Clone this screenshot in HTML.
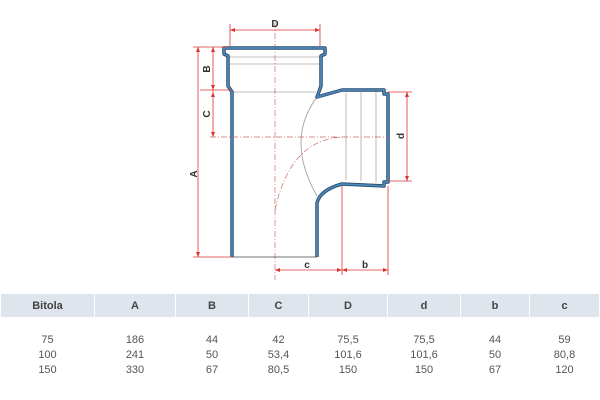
<!DOCTYPE html>
<html><head><style>
body{margin:0;width:600px;height:400px;background:#fff;overflow:hidden;font-family:"Liberation Sans",Arial,sans-serif}
table{position:absolute;top:294px;left:0;width:600px;border-collapse:separate;border-spacing:1px 0;font-size:11px;color:#555;text-align:center}
th{background:#dfe5ec;height:23px;font-weight:bold;color:#444;padding:0}
td{padding:0;height:15px;line-height:15px}
tr.first td{padding-top:16px}
</style></head><body>
<svg width="600" height="290" style="position:absolute;left:0;top:0">
<g fill="none" stroke="#aaa" stroke-width="0.8">
<line x1="232" y1="92" x2="316" y2="92"/>
<line x1="228" y1="57" x2="320" y2="57"/>
<line x1="229" y1="64" x2="319" y2="64"/>
<line x1="346" y1="93" x2="346" y2="180"/>
<line x1="361" y1="92" x2="361" y2="181"/>
<line x1="376" y1="90" x2="376" y2="183"/>
<path d="M317 97 Q285 140 317 196" stroke="#999"/>
</g>
<g fill="none" stroke="#c66" stroke-width="0.7" stroke-dasharray="6 2 1 2">
<line x1="275" y1="22" x2="275" y2="280"/>
<path d="M275 210 Q290 140 342 137"/>
</g>
<g fill="none" stroke="#2c4a66" stroke-width="3.5" stroke-linejoin="round">
<path d="M232 257 L232 92 L228 86 L228 56 L224 54 L224 48 L325 48 L325 54 L321 56 L321 86 L317 97 L342 90 L384 90 L384 94 L388 94 L388 182 L384 182 L384 186 L342 184 Q320 190 317 203 L317 257"/>
</g>
<g fill="none" stroke="#4a88bd" stroke-width="1.8" stroke-linejoin="round">
<path d="M232 257 L232 92 L228 86 L228 56 L224 54 L224 48 L325 48 L325 54 L321 56 L321 86 L317 97 L342 90 L384 90 L384 94 L388 94 L388 182 L384 182 L384 186 L342 184 Q320 190 317 203 L317 257"/>
</g>
<line x1="232" y1="257" x2="317" y2="257" stroke="#444" stroke-width="0.8"/>
<g stroke="#d33" stroke-width="0.8" fill="none">
<line x1="230" y1="30" x2="320" y2="30"/><line x1="230" y1="24" x2="230" y2="46"/><line x1="320" y1="24" x2="320" y2="46"/>
<line x1="193" y1="47" x2="228" y2="47"/><line x1="193" y1="257" x2="232" y2="257"/>
<line x1="198" y1="47" x2="198" y2="257"/>
<line x1="213" y1="47" x2="213" y2="137"/>
<line x1="200" y1="90" x2="232" y2="90"/>
<line x1="210" y1="137" x2="388" y2="137" stroke="#c66" stroke-dasharray="6 2 1 2"/>
<line x1="388" y1="92" x2="412" y2="92"/><line x1="388" y1="181" x2="412" y2="181"/>
<line x1="407" y1="92" x2="407" y2="181"/>
<line x1="342" y1="186" x2="342" y2="275"/><line x1="388" y1="186" x2="388" y2="275"/>
<line x1="275" y1="270" x2="388" y2="270"/>
</g>
<g fill="#d33" stroke="none">
<path d="M230 30l5-2v4z"/><path d="M320 30l-5-2v4z"/>
<path d="M198 47l-2 5h4z"/><path d="M198 257l-2-5h4z"/>
<path d="M213 47l-2 5h4z"/><path d="M213 90l-2-5h4z"/><path d="M213 92l-2 5h4z"/><path d="M213 137l-2-5h4z"/>
<path d="M407 92l-2 5h4z"/><path d="M407 181l-2-5h4z"/>
<path d="M275 270l5-2v4z"/><path d="M342 270l-5-2v4z"/><path d="M342 270l5-2v4z"/><path d="M388 270l-5-2v4z"/>
</g>
<g font-family="Liberation Sans,Arial,sans-serif" font-size="10" font-weight="bold" fill="#333" text-anchor="middle">
<text x="275" y="27">D</text>
<text x="307" y="268">c</text>
<text x="365" y="268">b</text>
<text transform="translate(197,174) rotate(-90)">A</text>
<text transform="translate(210,69) rotate(-90)">B</text>
<text transform="translate(210,114) rotate(-90)">C</text>
<text transform="translate(404,136) rotate(-90)">d</text>
</g>
</svg>
<table>
<tr><th style="width:93px">Bitola</th><th style="width:80px">A</th><th style="width:72px">B</th><th style="width:59px">C</th><th style="width:78px">D</th><th style="width:72px">d</th><th style="width:68px">b</th><th>c</th></tr>
<tr class="first"><td>75</td><td>186</td><td>44</td><td>42</td><td>75,5</td><td>75,5</td><td>44</td><td>59</td></tr>
<tr><td>100</td><td>241</td><td>50</td><td>53,4</td><td>101,6</td><td>101,6</td><td>50</td><td>80,8</td></tr>
<tr><td>150</td><td>330</td><td>67</td><td>80,5</td><td>150</td><td>150</td><td>67</td><td>120</td></tr>
</table>
</body></html>
